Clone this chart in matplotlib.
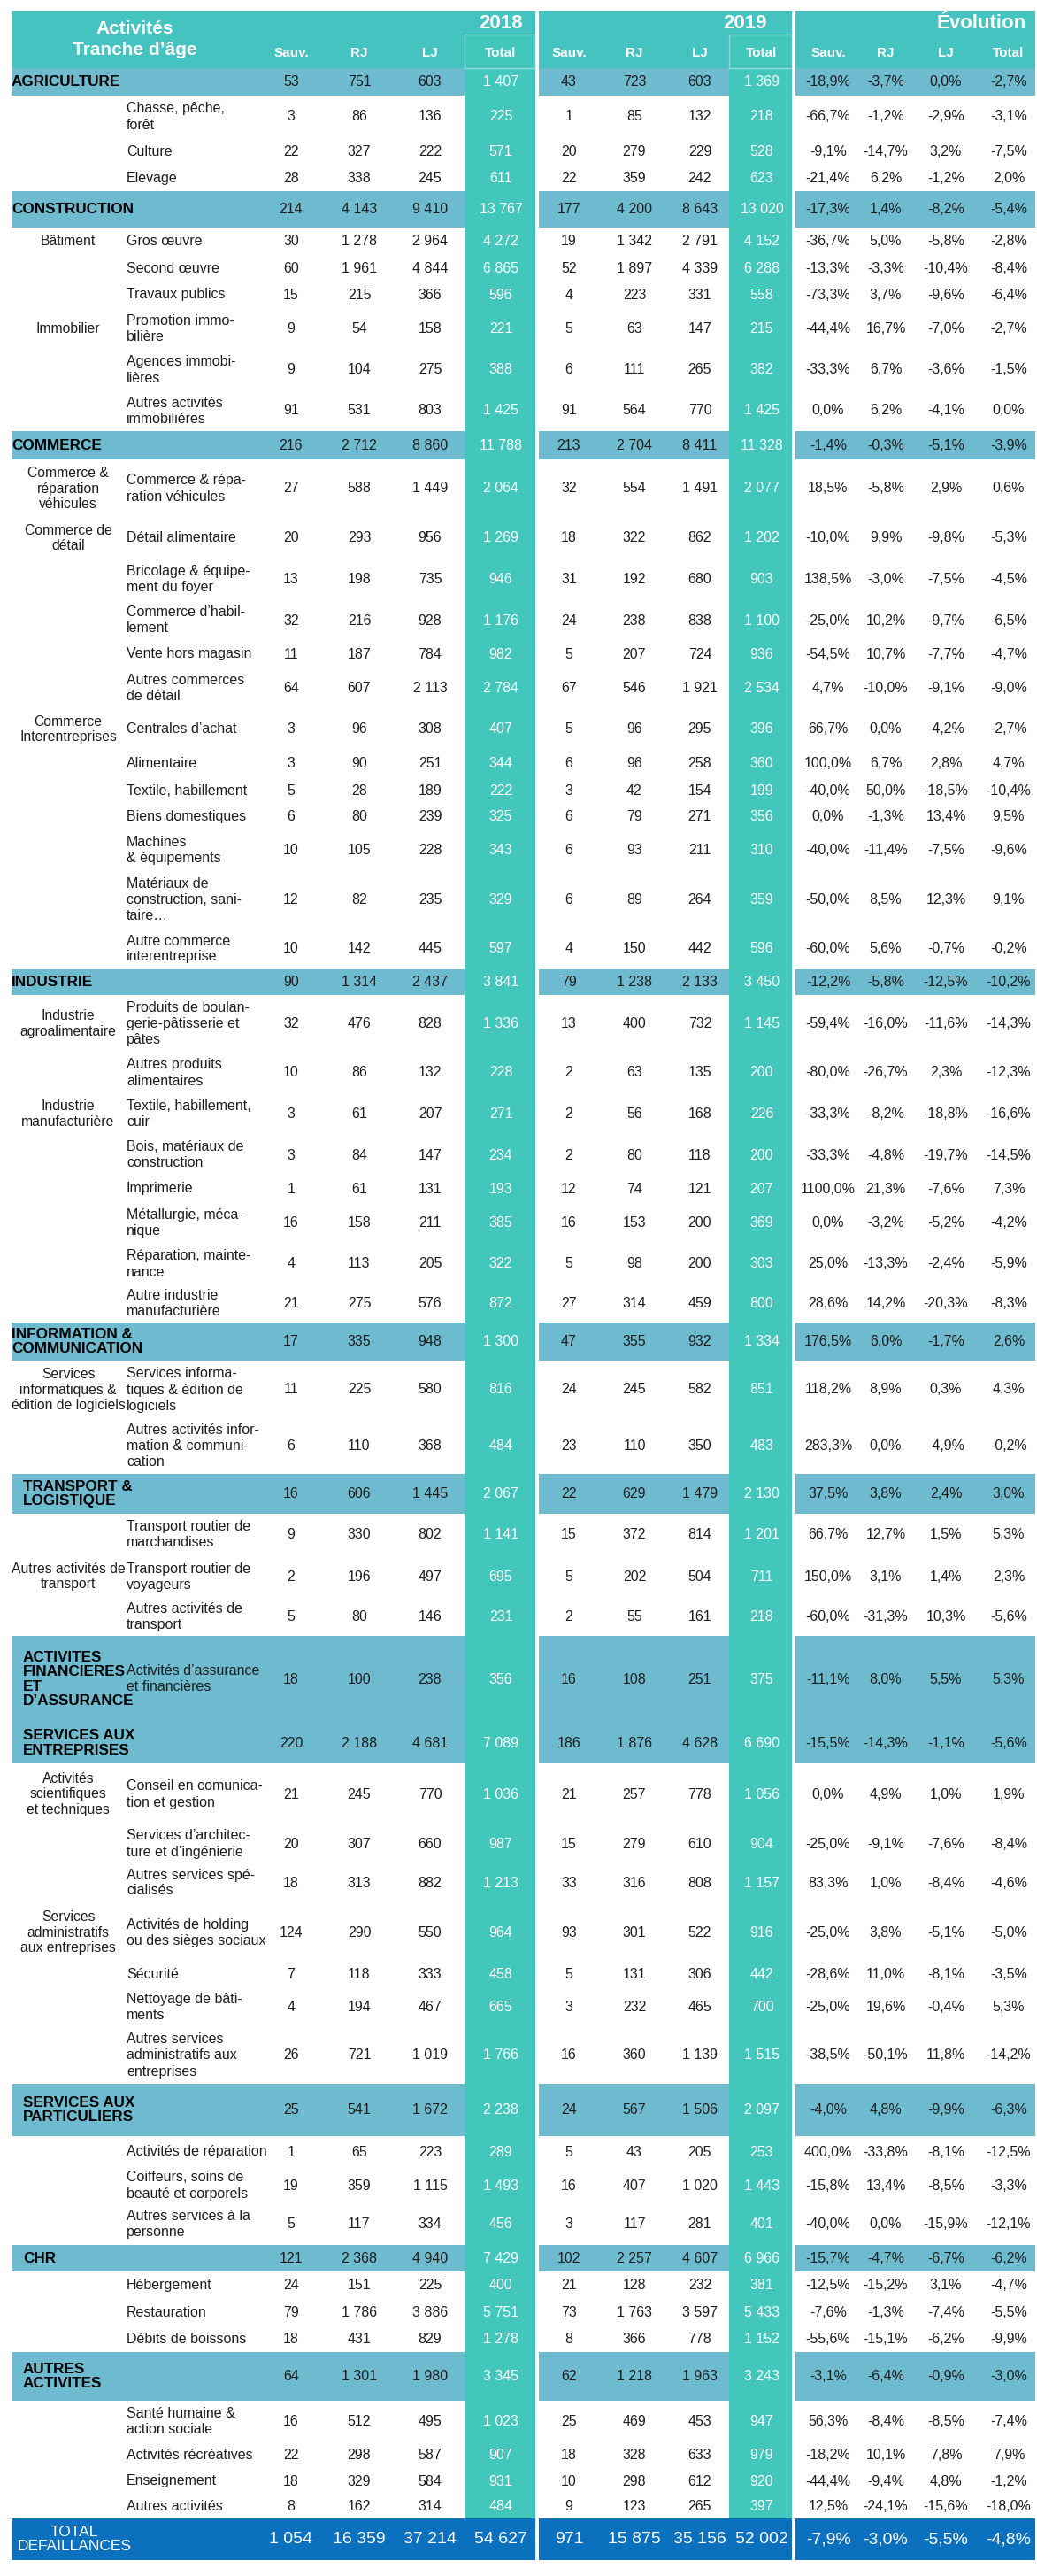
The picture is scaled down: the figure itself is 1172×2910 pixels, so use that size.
import matplotlib
matplotlib.use("Agg")
import matplotlib.pyplot as plt
from matplotlib.patches import Rectangle

# ---------------------------------------------------------------- data
categories = [
    "AGRICULTURE", "", "", "",
    "CONSTRUCTION", "", "", "", "", "", "",
    "COMMERCE", "", "", "", "", "", "", "", "", "", "", "", "", "",
    "INDUSTRIE", "", "", "", "", "", "", "", "",
    "INFORMATION &\nCOMMUNICATION", "", "",
    "TRANSPORT &\nLOGISTIQUE", "", "", "",
    "ACTIVITES\nFINANCIERES\nET\nD’ASSURANCE",
    "SERVICES AUX\nENTREPRISES", "", "", "", "", "", "", "",
    "SERVICES AUX\nPARTICULIERS", "", "", "",
    "CHR", "", "", "",
    "AUTRES\nACTIVITES", "", "", "", "",
]

groups = [
    "", "", "", "",
    "", "Bâtiment", "", "", "Immobilier", "", "",
    "", "Commerce &\nréparation\nvéhicules", "Commerce de\ndétail", "", "", "", "",
    "Commerce\nInterentreprises", "", "", "", "", "", "",
    "", "Industrie\nagroalimentaire", "", "Industrie\nmanufacturière", "", "", "", "", "",
    "", "Services\ninformatiques &\nédition de logiciels", "",
    "", "", "Autres activités de\ntransport", "",
    "",
    "", "Activités\nscientifiques\net techniques", "", "", "Services\nadministratifs\naux entreprises", "", "", "",
    "", "", "", "",
    "", "", "", "",
    "", "", "", "", "",
]

activities = [
    "", "Chasse, pêche,\nforêt", "Culture", "Elevage",
    "", "Gros œuvre", "Second œuvre", "Travaux publics", "Promotion immo-\nbilière",
    "Agences immobi-\nlières", "Autres activités\nimmobilières",
    "", "Commerce & répa-\nration véhicules", "Détail alimentaire",
    "Bricolage & équipe-\nment du foyer", "Commerce d’habil-\nlement", "Vente hors magasin",
    "Autres commerces\nde détail", "Centrales d’achat", "Alimentaire", "Textile, habillement",
    "Biens domestiques", "Machines\n& équipements", "Matériaux de\nconstruction, sani-\ntaire…",
    "Autre commerce\ninterentreprise",
    "", "Produits de boulan-\ngerie-pâtisserie et\npâtes", "Autres produits\nalimentaires",
    "Textile, habillement,\ncuir", "Bois, matériaux de\nconstruction", "Imprimerie",
    "Métallurgie, méca-\nnique", "Réparation, mainte-\nnance", "Autre industrie\nmanufacturière",
    "", "Services informa-\ntiques & édition de\nlogiciels",
    "Autres activités infor-\nmation & communi-\ncation",
    "", "Transport routier de\nmarchandises", "Transport routier de\nvoyageurs",
    "Autres activités de\ntransport",
    "Activités d’assurance\net financières",
    "", "Conseil en comunica-\ntion et gestion", "Services d’architec-\nture et d’ingénierie",
    "Autres services spé-\ncialisés", "Activités de holding\nou des sièges sociaux", "Sécurité",
    "Nettoyage de bâti-\nments", "Autres services\nadministratifs aux\nentreprises",
    "", "Activités de réparation", "Coiffeurs, soins de\nbeauté et corporels",
    "Autres services à la\npersonne",
    "", "Hébergement", "Restauration", "Débits de boissons",
    "", "Santé humaine &\naction sociale", "Activités récréatives", "Enseignement",
    "Autres activités",
]

sauv_2018 = [53, 3, 22, 28, 214, 30, 60, 15, 9, 9, 91, 216, 27, 20, 13, 32, 11, 64, 3, 3, 5, 6, 10, 12, 10,
             90, 32, 10, 3, 3, 1, 16, 4, 21, 17, 11, 6, 16, 9, 2, 5, 18, 220, 21, 20, 18, 124, 7, 4, 26,
             25, 1, 19, 5, 121, 24, 79, 18, 64, 16, 22, 18, 8]
rj_2018 = [751, 86, 327, 338, 4143, 1278, 1961, 215, 54, 104, 531, 2712, 588, 293, 198, 216, 187, 607, 96, 90,
           28, 80, 105, 82, 142, 1314, 476, 86, 61, 84, 61, 158, 113, 275, 335, 225, 110, 606, 330, 196, 80,
           100, 2188, 245, 307, 313, 290, 118, 194, 721, 541, 65, 359, 117, 2368, 151, 1786, 431, 1301, 512,
           298, 329, 162]
lj_2018 = [603, 136, 222, 245, 9410, 2964, 4844, 366, 158, 275, 803, 8860, 1449, 956, 735, 928, 784, 2113, 308,
           251, 189, 239, 228, 235, 445, 2437, 828, 132, 207, 147, 131, 211, 205, 576, 948, 580, 368, 1445, 802,
           497, 146, 238, 4681, 770, 660, 882, 550, 333, 467, 1019, 1672, 223, 1115, 334, 4940, 225, 3886, 829,
           1980, 495, 587, 584, 314]
total_2018 = [1407, 225, 571, 611, 13767, 4272, 6865, 596, 221, 388, 1425, 11788, 2064, 1269, 946, 1176, 982,
              2784, 407, 344, 222, 325, 343, 329, 597, 3841, 1336, 228, 271, 234, 193, 385, 322, 872, 1300, 816,
              484, 2067, 1141, 695, 231, 356, 7089, 1036, 987, 1213, 964, 458, 665, 1766, 2238, 289, 1493, 456,
              7429, 400, 5751, 1278, 3345, 1023, 907, 931, 484]
sauv_2019 = [43, 1, 20, 22, 177, 19, 52, 4, 5, 6, 91, 213, 32, 18, 31, 24, 5, 67, 5, 6, 3, 6, 6, 6, 4,
             79, 13, 2, 2, 2, 12, 16, 5, 27, 47, 24, 23, 22, 15, 5, 2, 16, 186, 21, 15, 33, 93, 5, 3, 16,
             24, 5, 16, 3, 102, 21, 73, 8, 62, 25, 18, 10, 9]
rj_2019 = [723, 85, 279, 359, 4200, 1342, 1897, 223, 63, 111, 564, 2704, 554, 322, 192, 238, 207, 546, 96, 96,
           42, 79, 93, 89, 150, 1238, 400, 63, 56, 80, 74, 153, 98, 314, 355, 245, 110, 629, 372, 202, 55,
           108, 1876, 257, 279, 316, 301, 131, 232, 360, 567, 43, 407, 117, 2257, 128, 1763, 366, 1218, 469,
           328, 298, 123]
lj_2019 = [603, 132, 229, 242, 8643, 2791, 4339, 331, 147, 265, 770, 8411, 1491, 862, 680, 838, 724, 1921, 295,
           258, 154, 271, 211, 264, 442, 2133, 732, 135, 168, 118, 121, 200, 200, 459, 932, 582, 350, 1479, 814,
           504, 161, 251, 4628, 778, 610, 808, 522, 306, 465, 1139, 1506, 205, 1020, 281, 4607, 232, 3597, 778,
           1963, 453, 633, 612, 265]
total_2019 = [1369, 218, 528, 623, 13020, 4152, 6288, 558, 215, 382, 1425, 11328, 2077, 1202, 903, 1100, 936,
              2534, 396, 360, 199, 356, 310, 359, 596, 3450, 1145, 200, 226, 200, 207, 369, 303, 800, 1334, 851,
              483, 2130, 1201, 711, 218, 375, 6690, 1056, 904, 1157, 916, 442, 700, 1515, 2097, 253, 1443, 401,
              6966, 381, 5433, 1152, 3243, 947, 979, 920, 397]
evo_sauv = [-18.9, -66.7, -9.1, -21.4, -17.3, -36.7, -13.3, -73.3, -44.4, -33.3, 0.0, -1.4, 18.5, -10.0, 138.5,
            -25.0, -54.5, 4.7, 66.7, 100.0, -40.0, 0.0, -40.0, -50.0, -60.0, -12.2, -59.4, -80.0, -33.3, -33.3,
            1100.0, 0.0, 25.0, 28.6, 176.5, 118.2, 283.3, 37.5, 66.7, 150.0, -60.0, -11.1, -15.5, 0.0, -25.0,
            83.3, -25.0, -28.6, -25.0, -38.5, -4.0, 400.0, -15.8, -40.0, -15.7, -12.5, -7.6, -55.6, -3.1, 56.3,
            -18.2, -44.4, 12.5]
evo_rj = [-3.7, -1.2, -14.7, 6.2, 1.4, 5.0, -3.3, 3.7, 16.7, 6.7, 6.2, -0.3, -5.8, 9.9, -3.0, 10.2, 10.7, -10.0,
          0.0, 6.7, 50.0, -1.3, -11.4, 8.5, 5.6, -5.8, -16.0, -26.7, -8.2, -4.8, 21.3, -3.2, -13.3, 14.2, 6.0,
          8.9, 0.0, 3.8, 12.7, 3.1, -31.3, 8.0, -14.3, 4.9, -9.1, 1.0, 3.8, 11.0, 19.6, -50.1, 4.8, -33.8, 13.4,
          0.0, -4.7, -15.2, -1.3, -15.1, -6.4, -8.4, 10.1, -9.4, -24.1]
evo_lj = [0.0, -2.9, 3.2, -1.2, -8.2, -5.8, -10.4, -9.6, -7.0, -3.6, -4.1, -5.1, 2.9, -9.8, -7.5, -9.7, -7.7,
          -9.1, -4.2, 2.8, -18.5, 13.4, -7.5, 12.3, -0.7, -12.5, -11.6, 2.3, -18.8, -19.7, -7.6, -5.2, -2.4,
          -20.3, -1.7, 0.3, -4.9, 2.4, 1.5, 1.4, 10.3, 5.5, -1.1, 1.0, -7.6, -8.4, -5.1, -8.1, -0.4, 11.8, -9.9,
          -8.1, -8.5, -15.9, -6.7, 3.1, -7.4, -6.2, -0.9, -8.5, 7.8, 4.8, -15.6]
evo_total = [-2.7, -3.1, -7.5, 2.0, -5.4, -2.8, -8.4, -6.4, -2.7, -1.5, 0.0, -3.9, 0.6, -5.3, -4.5, -6.5, -4.7,
             -9.0, -2.7, 4.7, -10.4, 9.5, -9.6, 9.1, -0.2, -10.2, -14.3, -12.3, -16.6, -14.5, 7.3, -4.2, -5.9,
             -8.3, 2.6, 4.3, -0.2, 3.0, 5.3, 2.3, -5.6, 5.3, -5.6, 1.9, -8.4, -4.6, -5.0, -3.5, 5.3, -14.2, -6.3,
             -12.5, -3.3, -12.1, -6.2, -4.7, -5.5, -9.9, -3.0, -7.4, 7.9, -1.2, -18.0]

grand_label = "TOTAL\nDEFAILLANCES"
grand_2018 = [1054, 16359, 37214, 54627]
grand_2019 = [971, 15875, 35156, 52002]
grand_evo = [-7.9, -3.0, -5.5, -4.8]

year_titles = ["2018", "2019", "Évolution"]
col_titles = ["Sauv.", "RJ", "LJ", "Total"]
first_titles = ["Activités", "Tranche d’âge"]

# ---------------------------------------------------------------- layout
row_heights = [31, 48, 31, 29, 41, 31, 30, 30, 47, 46, 46, 32, 66, 46, 47, 46, 30, 47, 46, 31, 30, 29, 47, 65,
               46, 29, 65, 46, 47, 46, 30, 47, 46, 43, 43, 66, 62, 45, 47, 48, 43, 98, 46, 70, 42, 46, 66, 29,
               45, 64, 59, 36, 40, 47, 30, 31, 31, 29, 55, 47, 30, 28, 28]
grand_height = 47
W, H = 1172, 2910
LEFT, RIGHT = 13, 1170
TOP, HEAD_H = 12, 65
TOTCOL_TOP = 39
col_x = [329, 406, 486, 566, 643, 717, 791, 861, 936, 1001, 1069, 1140]
totcol_span = [(525, 605), (824, 895)]
seps = [605, 895]
SEP_W = 4
year_x = [566, 842, 1109]
cat_indent = {"TRANSPORT": 26, "ACTIVITES": 26, "SERVICES": 26, "CHR": 26, "AUTRES": 26}
SUB_X, GROUP_X = 143, 77

HEADER_C = "#45C3C0"
TOTCOL_C = "#43C6BC"
BAND_C = "#6EBBD0"
GRAND_C = "#0B70BE"
TXT = "#1E1E1E"

NARROW = ["Liberation Sans Narrow", "Liberation Sans", "DejaVu Sans"]
WIDE = ["Liberation Sans", "DejaVu Sans"]

FS_NUM = 11.5
FS_SUB = 11.5
FS_GROUP = 11.3
FS_CAT = 12.3

fig = plt.figure(figsize=(W / 100, H / 100), dpi=100)
ax = fig.add_axes([0, 0, 1, 1])
ax.set_xlim(0, W)
ax.set_ylim(H, 0)
ax.axis("off")

# row geometry
tops = []
y = TOP + HEAD_H
for h in row_heights:
    tops.append(y)
    y += h
grand_top = y
bottom = grand_top + grand_height

# header
ax.add_patch(Rectangle((LEFT, TOP), RIGHT - LEFT, HEAD_H, color=HEADER_C, lw=0, zorder=1))
# category bands
for i, cat in enumerate(categories):
    if cat:
        ax.add_patch(Rectangle((LEFT, tops[i]), RIGHT - LEFT, row_heights[i], color=BAND_C, lw=0, zorder=1))
# total columns
for (x0, x1) in totcol_span:
    ax.add_patch(Rectangle((x0, TOTCOL_TOP), x1 - x0, grand_top - TOTCOL_TOP, color=TOTCOL_C, lw=0, zorder=2))
    ax.add_patch(Rectangle((x0, TOTCOL_TOP), x1 - x0, TOP + HEAD_H - TOTCOL_TOP, facecolor="none",
                           edgecolor="#8FDCD6", lw=1.0, zorder=2.5))
# grand total row
ax.add_patch(Rectangle((LEFT, grand_top), RIGHT - LEFT, grand_height, color=GRAND_C, lw=0, zorder=3))
# white separators
for s in seps:
    ax.add_patch(Rectangle((s, TOP), SEP_W, bottom - TOP, color="white", lw=0, zorder=4))

# header texts
ax.text(152, 33, first_titles[0], ha="center", va="center", color="white", fontsize=15,
        fontweight="bold", family=WIDE, zorder=5)
ax.text(152, 57, first_titles[1], ha="center", va="center", color="white", fontsize=15,
        fontweight="bold", family=WIDE, zorder=5)
for x, t in zip(year_x, year_titles):
    ax.text(x, 27, t, ha="center", va="center", color="white", fontsize=16, fontweight="bold",
            family=WIDE, zorder=5)
for k, x in enumerate(col_x):
    ax.text(x, 60, col_titles[k % 4], ha="center", va="center", color="white", fontsize=11,
            fontweight="bold", family=WIDE, zorder=5)


def fmt_int(v):
    return f"{v:,}".replace(",", " ")


def fmt_pct(v):
    return f"{v:.1f}%".replace(".", ",")


for i in range(len(row_heights)):
    cy = tops[i] + row_heights[i] / 2
    cat = categories[i]
    if cat:
        ix = cat_indent.get(cat.split()[0].split("\n")[0], LEFT)
        ax.text(ix, cy, cat, ha="left", va="center", color="black", fontsize=FS_CAT, fontweight="bold",
                family=NARROW, linespacing=1.12, zorder=5)
    if groups[i]:
        ax.text(GROUP_X, cy, groups[i], ha="center", va="center", color=TXT, fontsize=FS_GROUP,
                family=NARROW, linespacing=1.2, multialignment="center", zorder=5)
    if activities[i]:
        ax.text(SUB_X, cy, activities[i], ha="left", va="center", color=TXT, fontsize=FS_SUB,
                family=NARROW, linespacing=1.25, zorder=5)
    vals = [fmt_int(sauv_2018[i]), fmt_int(rj_2018[i]), fmt_int(lj_2018[i]), fmt_int(total_2018[i]),
            fmt_int(sauv_2019[i]), fmt_int(rj_2019[i]), fmt_int(lj_2019[i]), fmt_int(total_2019[i]),
            fmt_pct(evo_sauv[i]), fmt_pct(evo_rj[i]), fmt_pct(evo_lj[i]), fmt_pct(evo_total[i])]
    for k, (x, s) in enumerate(zip(col_x, vals)):
        c = "white" if k in (3, 7) else TXT
        ax.text(x, cy, s, ha="center", va="center", color=c, fontsize=FS_NUM, family=NARROW, zorder=5)

# grand total row
gy = grand_top + grand_height / 2
ax.text(84, gy, grand_label, ha="center", va="center", color="white", fontsize=12.5, family=NARROW,
        multialignment="center", linespacing=1.05, zorder=5)
gvals = [fmt_int(v) for v in grand_2018] + [fmt_int(v) for v in grand_2019] + [fmt_pct(v) for v in grand_evo]
for x, s in zip(col_x, gvals):
    ax.text(x, gy, s, ha="center", va="center", color="white", fontsize=14, family=NARROW, zorder=5)

fig.savefig("out.png", dpi=100, facecolor="white")
